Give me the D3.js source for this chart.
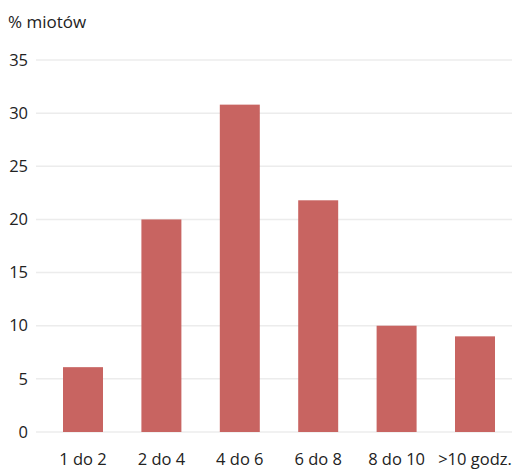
<!DOCTYPE html>
<html>
<head>
<meta charset="utf-8">
<script src="https://cdn.jsdelivr.net/npm/d3@7"></script>
<style>
  html, body { margin: 0; padding: 0; background: #fff; }
  svg { display: block; font-family: "Open Sans", "Noto Sans", sans-serif; }
</style>
</head>
<body>
<svg id="chart" width="516" height="469"></svg>
<script>
// Share of litters by duration class
const categories = ["1 do 2", "2 do 4", "4 do 6", "6 do 8", "8 do 10", ">10 godz."];
const values = [6.1, 20.0, 30.8, 21.8, 10.0, 9.0];
const yTicks = [0, 5, 10, 15, 20, 25, 30, 35];
const yTitle = "% miotów";

const svg = d3.select("#chart");
const margin = { top: 60, left: 36, right: 4, bottom: 37 };
const width = 516, height = 469;
const fontSize = 16.5;

const y = d3.scaleLinear()
  .domain([0, 35])
  .range([height - margin.bottom, margin.top]);

const x = d3.scaleBand()
  .domain(categories)
  .range([43.8, 514.2])
  .paddingInner(0.49)
  .paddingOuter(0.245);

// gridlines
svg.append("g")
  .selectAll("line")
  .data(yTicks)
  .join("line")
  .attr("x1", margin.left)
  .attr("x2", width - margin.right)
  .attr("y1", d => y(d))
  .attr("y2", d => y(d))
  .attr("stroke", "#ececec")
  .attr("stroke-width", 1.5);

// y axis labels
const yAxis = d3.axisLeft(y).tickValues(yTicks).tickSize(0).tickPadding(0);
svg.append("g")
  .attr("transform", `translate(28,0)`)
  .call(yAxis)
  .call(g => g.select(".domain").remove())
  .call(g => g.selectAll("text")
    .attr("fill", "#222")
    .attr("font-size", fontSize)
    .attr("font-family", "'Open Sans', 'Noto Sans', sans-serif"));

// bars
svg.append("g")
  .selectAll("rect")
  .data(values)
  .join("rect")
  .attr("x", (d, i) => x(categories[i]))
  .attr("width", x.bandwidth())
  .attr("y", d => y(d))
  .attr("height", d => y(0) - y(d))
  .attr("fill", "#c86461");

// x axis labels
const xAxis = d3.axisBottom(x).tickSize(0).tickPadding(0);
svg.append("g")
  .attr("transform", `translate(0,453)`)
  .call(xAxis)
  .call(g => g.select(".domain").remove())
  .call(g => g.selectAll("text")
    .attr("fill", "#222")
    .attr("font-size", fontSize)
    .attr("font-family", "'Open Sans', 'Noto Sans', sans-serif"));

// axis title
svg.append("text")
  .attr("x", 8)
  .attr("y", 28)
  .attr("fill", "#222")
  .attr("font-size", 17)
  .attr("font-family", "'Open Sans', 'Noto Sans', sans-serif")
  .text(yTitle);
</script>
</body>
</html>
